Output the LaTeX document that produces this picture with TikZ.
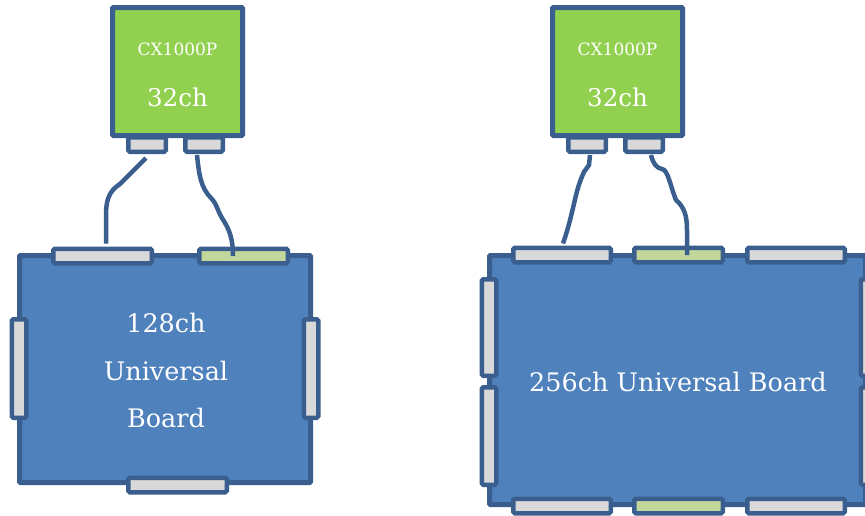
\documentclass[tikz,border=0pt]{standalone}
\usepackage{fontspec}
\setmainfont{DejaVu Serif}
\definecolor{bd}{HTML}{3A5F8E}
\definecolor{chipg}{HTML}{92D050}
\definecolor{boardb}{HTML}{4F81BD}
\definecolor{pg}{HTML}{D9D9D9}
\definecolor{pgreen}{HTML}{C3D69B}
\begin{document}
\begin{tikzpicture}[x=1pt,y=-1pt,
  chip/.style={draw=bd, fill=chipg, line width=5pt, rounded corners=1pt, inner sep=0pt, minimum width=130pt, minimum height=128pt},
  board/.style={draw=bd, fill=boardb, line width=5pt, rounded corners=1pt, inner sep=0pt},
  hport/.style={draw=bd, fill=pg, line width=4.5pt, rounded corners=1.5pt, inner sep=0pt, minimum height=14.5pt},
  vport/.style={draw=bd, fill=pg, line width=4.5pt, rounded corners=1.5pt, inner sep=0pt, minimum width=14.5pt},
  gport/.style={hport, fill=pgreen},
  cable/.style={draw=bd, line width=4.5pt},
  wtxt/.style={text=white, inner sep=0pt, align=center}]
\useasboundingbox (0,0) rectangle (865,515);
\clip (0,0) rectangle (865,515);

% ---------- left group ----------
\node[hport, minimum width=37.5pt] (lga) at (147,144.5) {};
\node[hport, minimum width=37.5pt] (lgb) at (204,144.5) {};
\node[chip] (lg) at (177.5,71.5) {};
\node[wtxt, font=\fontsize{17}{20}\selectfont] (lgt1) at ([yshift=22.5pt]lg.center) {CX1000P};
\node[wtxt, font=\fontsize{24.5}{30}\selectfont] (lgt2) at ([yshift=-25.5pt]lg.center) {32ch};

\node[board, minimum width=291pt, minimum height=227pt] (lb) at (165,369) {};
\node[hport, minimum width=98.5pt] (lbt1) at (102.5,256) {};
\node[gport, minimum width=88.5pt] (lbt2) at (243.5,256) {};
\node[hport, minimum width=98.5pt] (lbb) at (177.5,485) {};
\node[vport, minimum height=98.5pt] (lbl) at (19,368.5) {};
\node[vport, minimum height=98.5pt] (lbr) at (311,368.5) {};
\node[wtxt, font=\fontsize{25.5}{47.5}\selectfont] (lbt) at ([xshift=1pt,yshift=-1.5pt]lb.center) {128ch\\Universal\\Board};

\draw[cable] ([xshift=-1pt,yshift=-4pt]lga.south) -- (120,184)
  .. controls (109,191) and (106,200) .. (106,215) -- ([xshift=3.5pt,yshift=3pt]lbt1.north);
\draw[cable] ([xshift=-7pt,yshift=-1pt]lgb.south)
  .. controls (199,175) and (201,188) .. (211,198)
  .. controls (217,204) and (218,212) .. (222,218)
  .. controls (230,230) and (233,240) .. ([xshift=-10.5pt]lbt2.center);

% ---------- right group ----------
\node[hport, minimum width=37.5pt] (rga) at (587,144.5) {};
\node[hport, minimum width=37.5pt] (rgb) at (644,144.5) {};
\node[chip] (rg) at (617.5,71.5) {};
\node[wtxt, font=\fontsize{17}{20}\selectfont] (rgt1) at ([yshift=22.5pt]rg.center) {CX1000P};
\node[wtxt, font=\fontsize{24.5}{30}\selectfont] (rgt2) at ([yshift=-25.5pt]rg.center) {32ch};

\node[board, minimum width=376pt, minimum height=249pt] (rb) at (677.5,380) {};
\node[hport, minimum width=97.5pt] (rbt1) at (562,255) {};
\node[gport, minimum width=88.5pt] (rbt2) at (678.5,255) {};
\node[hport, minimum width=97.5pt] (rbt3) at (796,255) {};
\node[hport, minimum width=97.5pt] (rbb1) at (562,506) {};
\node[gport, minimum width=88.5pt] (rbb2) at (678.5,506) {};
\node[hport, minimum width=97.5pt] (rbb3) at (796,506) {};
\node[vport, minimum height=96.5pt] (rbl1) at (489,327.5) {};
\node[vport, minimum height=97.5pt] (rbl2) at (489,436) {};
\node[vport, minimum height=96.5pt] (rbr1) at (868,327.5) {};
\node[vport, minimum height=97.5pt] (rbr2) at (868,436) {};
\node[wtxt, font=\fontsize{25.5}{30}\selectfont] (rbt) at ([xshift=0.5pt,yshift=-2pt]rb.center) {256ch Universal Board};

\draw[cable] ([xshift=3pt,yshift=-1pt]rga.south) -- (589,165) -- (584,172)
  .. controls (578,185) and (576,195) .. (573,208)
  .. controls (569,225) and (566,235) .. ([xshift=1pt,yshift=2pt]rbt1.north);
\draw[cable] ([xshift=7pt,yshift=-1pt]rgb.south)
  .. controls (653,163) and (656,168) .. (662,169)
  .. controls (668,170) and (670,185) .. (676,200)
  .. controls (684,207) and (687,215) .. (687,230) -- ([xshift=8.5pt]rbt2.center);
\end{tikzpicture}
\end{document}
